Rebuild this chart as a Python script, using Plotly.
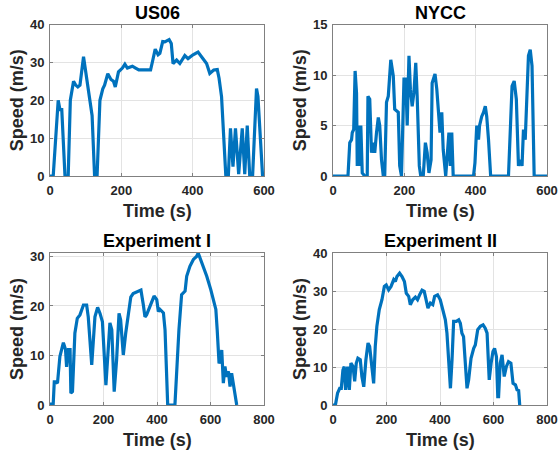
import plotly.graph_objects as go

# ---------------- data ----------------
us06_t = [0, 9, 23, 28, 33, 42, 51, 57, 66, 72, 78, 84, 94, 109, 118, 125, 132, 140, 148, 153, 162, 171, 178,
          183, 192, 203, 210, 217, 231, 240, 249, 277, 282, 288, 295, 303, 308, 316, 322, 334, 340, 345, 355,
          364, 378, 387, 401, 415, 425, 439, 448, 459, 469, 474, 481, 493, 500, 506, 513, 520, 529, 539, 546,
          553, 560, 568, 579, 583, 596, 600]
us06_v = [0, 0, 20, 17.5, 17.5, 0, 0, 20, 25, 24, 23.5, 24, 31.5, 22, 16, 0, 0, 20, 23, 24, 27, 25.5, 25,
          23.5, 27.5, 28.5, 29.5, 28.5, 29, 28.5, 28, 28, 28, 30.5, 33.5, 32, 32.4, 35.5, 35.4, 36, 35, 29.7, 30.6,
          29.7, 31.8, 31, 32, 32.7, 31.4, 29.7, 27.1, 28, 28.1, 25.8, 20.9, 0, 0, 12.6, 2.5, 12.6, 0.5, 12.6, 0.5,
          13.3, 0, 0, 23.1, 21, 0, 0]

nycc_t = [0, 42, 47, 52, 54, 58, 62, 66, 68, 72, 75, 78, 82, 89, 96, 98, 103, 108, 112, 117, 122, 127, 131,
          136, 141, 145, 150, 155, 162, 169, 173, 183, 187, 192, 199, 204, 208, 213, 217, 222, 227, 232, 236,
          242, 246, 253, 259, 264, 269, 275, 278, 286, 291, 295, 300, 305, 309, 316, 322, 325, 329, 333, 337,
          394, 398, 403, 408, 411, 417, 422, 427, 431, 436, 442, 492, 497, 502, 508, 514, 520, 525, 530, 534,
          539, 544, 548, 553, 558, 564, 600]
nycc_v = [0, 0, 3.3, 3.6, 4.3, 4.6, 10.4, 8.2, 1, 5, 1, 5, 0.3, 0, 0, 7.9, 7.6, 2.3, 3.3, 2.3, 4.3, 5.8, 5,
          1.6, 0, 0, 7.3, 7.9, 11.5, 9.9, 6.6, 6.3, 1, 0, 9.6, 9.6, 5, 11.9, 8.6, 6.9, 8.3, 11.2, 7.9,
          1, 0, 0, 3.3, 2.3, 0.3, 1.6, 9.2, 10.1, 8.6, 6.3, 4.3, 6.3, 2.6, 0, 2.6, 4.3, 1, 4.3, 0,
          0, 1.3, 5, 3.6, 5, 5.9, 6.3, 6.9, 5.9, 3.6, 0, 0, 5.3, 8.9, 9.4, 7.6, 1, 1.6, 1, 4.6,
          3.6, 7.9, 11.9, 12.5, 10.9, 0, 0]

exp1_t = [0, 12, 16, 22, 28, 37, 50, 58, 62, 69, 75, 78, 84, 93, 102, 112, 125, 137, 143, 156, 168, 178,
          187, 196, 209, 224, 231, 240, 249, 258, 264, 274, 283, 293, 302, 311, 323, 340, 349, 355, 361,
          380, 389, 399, 405, 411, 424, 430, 436, 440, 467, 473, 482,
          492, 505, 511, 523, 536, 548, 554, 561, 573, 586, 601, 611, 620, 625, 632, 638, 642, 648, 654, 660,
          667, 673, 679, 685, 692, 698]
exp1_v = [0.2, 0.2, 4.7, 4.7, 4.4, 9.8, 12.6, 11.2, 7.7, 11.2, 11.2, 2.4, 2.7, 14.5, 17.5, 18.2, 20.2, 20.2,
          17.8, 8.1, 17.8, 19.7, 18.5, 16.8, 4, 16.6, 15.2, 2.7, 9.1, 18.5, 17.2, 10.1, 14.5, 18.8, 21.8,
          22.5, 22.8, 23.2, 20.2, 17.8, 18.2, 21.1, 22, 21.3, 18.9, 19.3, 18.6, 15.2, 3.7, 0, 0, 7.1, 15.2,
          22.3, 23, 26, 28, 29.4, 30, 30.7, 29.7, 28, 26, 23.3,
          21.3, 19.3, 15.2, 8.4, 9.1, 11.1, 4.4, 7.8, 5.7, 6.8, 3.7, 6.4, 4.4, 2.4, 0]

exp2_t = [0, 9, 17, 25, 31, 37, 42, 47, 55, 61, 67, 75, 81, 87, 93, 102, 108, 115, 123, 131, 137, 146, 152,
          158, 164, 173, 183, 192, 199, 208, 217, 227, 233, 239, 249, 258, 267, 274, 283, 289, 298, 308, 316,
          324, 333, 341, 349, 355, 364, 373, 380, 391, 401, 410, 420, 426, 432, 439, 445, 451, 461, 470, 476,
          482, 488, 495, 501, 507, 516, 526, 532, 541, 551, 561, 569, 576, 579, 584, 591, 598, 604, 611, 616,
          619, 625, 632, 640, 648, 656, 665, 673, 682, 688, 694, 698]
exp2_v = [0, 0, 3.1, 4.4, 4.4, 9.2, 10.1, 4, 10.1, 4, 11, 10.1, 6.2, 11, 12.3, 11.9, 7.5, 4.8, 11.9, 16.3,
          15.4, 8.4, 5.7, 15.4, 20.7, 25.1, 27.7, 31.2, 31.6, 30.3, 31.2, 33, 32.5, 33.8, 34.7, 33.8, 32.5,
          29.4, 28.6, 26.4, 27.7, 28.4, 27.7, 29, 30.2, 29.9, 27.2, 25.5, 26.8, 26.4, 28.6, 29, 27.7, 25.1,
          22.4, 18.9, 11.9, 4.4, 11.9, 22, 22, 22.4, 21.5, 18.9, 18, 10.1, 4.4, 6.6, 12.3, 14.9, 15.8, 19.8,
          20.7, 21.1, 20.2, 18.9, 11.9, 6.6, 11, 14.1, 14.9, 12.7, 2.2, 2.2, 11, 13.2, 7.5, 10.1, 11.4, 11,
          5.7, 5.3, 4, 3.8, 0]

titles = ["US06", "NYCC", "Experiment I", "Experiment II"]
x_label = "Time (s)"
y_label = "Speed (m/s)"
x_ranges = [[0, 600], [0, 600], [0, 800], [0, 800]]
y_ranges = [[0, 40], [0, 15], [0, 30.7], [0, 40]]
x_ticks = [[0, 200, 400, 600], [0, 200, 400, 600], [0, 200, 400, 600, 800], [0, 200, 400, 600, 800]]
y_ticks = [[0, 10, 20, 30, 40], [0, 5, 10, 15], [0, 10, 20, 30], [0, 10, 20, 30, 40]]

series = [(us06_t, us06_v), (nycc_t, nycc_v), (exp1_t, exp1_v), (exp2_t, exp2_v)]

# ---------------- layout geometry ----------------
W, H = 558, 454
FONT = "Liberation Sans, Arial, sans-serif"
LINE_COLOR = "#0072BD"

# pixel boxes: (left, right, top, bottom)
boxes = [(50, 264, 24.5, 176), (333, 547, 24.5, 176), (50, 264, 253, 405), (333, 547, 253, 405)]

fig = go.Figure()
annotations = []
layout = {}
for i, ((t, v), box) in enumerate(zip(series, boxes)):
    n = "" if i == 0 else str(i + 1)
    L, R, T, B = box
    fig.add_trace(go.Scatter(x=t, y=v, mode="lines", xaxis="x" + n, yaxis="y" + n,
                             line=dict(color=LINE_COLOR, width=3.2), showlegend=False,
                             hoverinfo="x+y"))
    common = dict(showline=True, mirror="ticks", linecolor="#808080", linewidth=1,
                  showgrid=True, gridcolor="#e3e3e3", gridwidth=1, zeroline=False,
                  ticks="inside", ticklen=3, tickcolor="#808080", automargin=False,
                  tickfont=dict(family=FONT, size=13, color="#262626", weight="bold"))
    layout["xaxis" + n] = dict(domain=[L / W, R / W], anchor="y" + n, range=x_ranges[i],
                               tickvals=x_ticks[i], ticklabelstandoff=2, **common)
    layout["yaxis" + n] = dict(domain=[1 - B / H, 1 - T / H], anchor="x" + n, range=y_ranges[i],
                               tickvals=y_ticks[i], ticklabelstandoff=2, **common)
    cx = (L + R) / 2
    annotations.append(dict(text=titles[i], x=cx / W, y=1 - (T - 12) / H, xref="paper", yref="paper",
                            xanchor="center", yanchor="middle", showarrow=False,
                            font=dict(family=FONT, size=18, color="black", weight="bold")))
    annotations.append(dict(text=x_label, x=cx / W, y=1 - (B + 35) / H, xref="paper", yref="paper",
                            xanchor="center", yanchor="middle", showarrow=False,
                            font=dict(family=FONT, size=18, color="#262626", weight="bold")))
    annotations.append(dict(text=y_label, x=(L - 33) / W, y=1 - ((T + B) / 2) / H, xref="paper",
                            yref="paper", xanchor="center", yanchor="middle", textangle=-90,
                            showarrow=False,
                            font=dict(family=FONT, size=18, color="#262626", weight="bold")))

fig.update_layout(width=W, height=H, autosize=False,
                  margin=dict(l=0, r=0, t=0, b=0, pad=0, autoexpand=False),
                  paper_bgcolor="white", plot_bgcolor="white",
                  annotations=annotations, **layout)
fig.write_html("out.html", config={"displayModeBar": False},
               post_script="document.body.style.margin='0';document.body.style.overflow='hidden';")
